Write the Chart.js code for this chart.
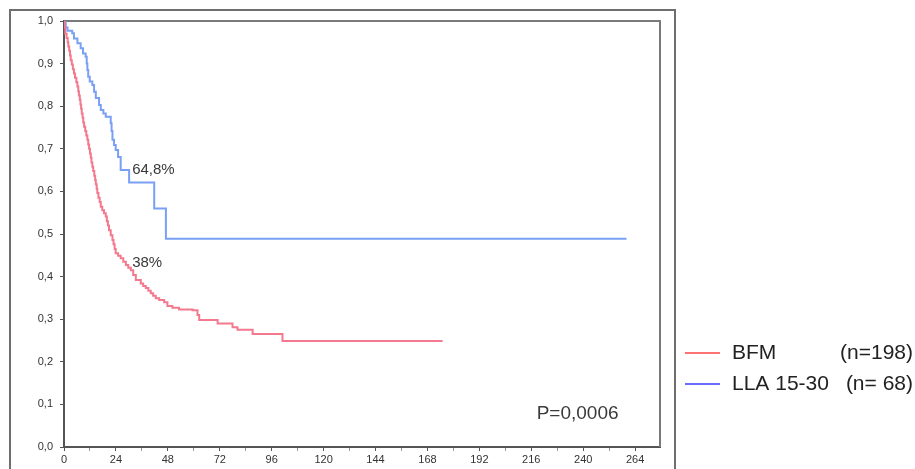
<!DOCTYPE html>
<html>
<head>
<meta charset="utf-8">
<script src="https://cdn.jsdelivr.net/npm/chart.js@4.4.1/dist/chart.umd.min.js"></script>
<style>
  html, body { margin: 0; padding: 0; background: #fff; }
  #wrap { width: 915px; height: 469px; position: relative; }
</style>
</head>
<body>
<div id="wrap"><canvas id="grafico"></canvas></div>
<script>
// Datos (meses, supervivencia)
const mesesBFM = [0, 0.3, 0.6, 1.2, 1.7, 2.0, 2.4, 2.8, 3.1, 3.6, 4.1, 4.6, 5.1, 5.7, 6.2, 6.6, 6.9, 7.3, 7.6, 7.9, 8.2, 8.6, 8.9, 9.3, 9.8, 10.3, 10.8, 11.2, 11.6, 12.0, 12.4, 12.7, 13.1, 13.5, 14.0, 14.4, 14.7, 15.1, 15.4, 15.9, 16.5, 17.0, 17.7, 18.5, 19.3, 19.8, 20.3, 20.8, 21.6, 22.4, 22.9, 23.4, 23.9, 25.0, 26.2, 27.4, 28.6, 29.7, 30.9, 32.0, 33.2, 35.5, 36.6, 37.8, 39.0, 40.1, 41.2, 42.4, 44.0, 46.3, 47.8, 50.1, 53.2, 59.4, 61.7, 62.5, 71, 77.9, 80.2, 87.2, 101, 175];
const survBFM = [1.0, 0.985, 0.970, 0.960, 0.950, 0.940, 0.930, 0.919, 0.908, 0.898, 0.887, 0.877, 0.867, 0.856, 0.846, 0.835, 0.825, 0.815, 0.804, 0.794, 0.783, 0.773, 0.762, 0.752, 0.742, 0.731, 0.721, 0.710, 0.700, 0.689, 0.679, 0.668, 0.658, 0.648, 0.637, 0.627, 0.617, 0.606, 0.596, 0.585, 0.575, 0.564, 0.556, 0.549, 0.541, 0.530, 0.520, 0.509, 0.497, 0.486, 0.476, 0.465, 0.455, 0.449, 0.443, 0.435, 0.427, 0.421, 0.415, 0.404, 0.392, 0.384, 0.378, 0.373, 0.367, 0.361, 0.355, 0.349, 0.345, 0.340, 0.331, 0.327, 0.323, 0.321, 0.310, 0.298, 0.290, 0.281, 0.275, 0.265, 0.249, 0.249];

const mesesLLA = [0, 0.8, 1.6, 3.8, 4.6, 6.2, 7.7, 8.8, 10.0, 10.5, 10.8, 11.2, 11.9, 13.1, 13.9, 14.7, 16.2, 17.0, 18.2, 19.3, 21.6, 22.0, 22.4, 23.1, 23.9, 25.0, 26.2, 30.1, 41.7, 47.1, 260];
const survLLA = [1.0, 0.985, 0.977, 0.971, 0.959, 0.948, 0.936, 0.924, 0.916, 0.900, 0.885, 0.869, 0.858, 0.850, 0.834, 0.819, 0.803, 0.791, 0.783, 0.775, 0.760, 0.742, 0.721, 0.709, 0.697, 0.681, 0.650, 0.621, 0.560, 0.489, 0.489];

const etiquetas = ['BFM', 'LLA 15-30'];
const tamanos = ['(n=198)', '(n= 68)'];
const coloresCurva = ['#f37a8e', '#79a0f4'];
const coloresLeyenda = ['#ff7272', '#6b6bff'];

const marcas = [
  { texto: '64,8%', x: 31.5, y: 0.650, size: 15 },
  { texto: '38%', x: 31.5, y: 0.432, size: 15 },
  { texto: 'P=0,0006', x: 218.5, y: 0.077, size: 19 }
];

const fuente = '"Liberation Sans", Arial, sans-serif';

// Marcos, textos y leyenda propios
const decoracion = {
  id: 'decoracion',
  beforeDatasetsDraw(chart) {
    const { ctx, chartArea: a } = chart;
    ctx.save();
    // marco exterior
    ctx.strokeStyle = '#6e6e6e';
    ctx.lineWidth = 2;
    ctx.strokeRect(10, 10, 665, 480);
    // marco del área
    ctx.strokeStyle = '#7a7a7a';
    ctx.lineWidth = 2;
    ctx.beginPath();
    ctx.moveTo(a.left, a.top);
    ctx.lineTo(a.right, a.top);
    ctx.lineTo(a.right, a.bottom);
    ctx.stroke();
    ctx.restore();
  },
  afterDraw(chart) {
    const { ctx, scales } = chart;
    ctx.save();
    ctx.fillStyle = '#3a3a3a';
    ctx.textBaseline = 'middle';
    ctx.textAlign = 'left';
    marcas.forEach(m => {
      ctx.font = m.size + 'px ' + fuente;
      ctx.fillText(m.texto, scales.x.getPixelForValue(m.x), scales.y.getPixelForValue(m.y));
    });

    // leyenda
    ctx.font = '21px ' + fuente;
    ctx.fillStyle = '#222';
    chart.data.datasets.forEach((ds, i) => {
      const y = 353 + i * 31;
      ctx.strokeStyle = coloresLeyenda[i];
      ctx.lineWidth = 2;
      ctx.beginPath();
      ctx.moveTo(685, y);
      ctx.lineTo(720, y);
      ctx.stroke();
      ctx.textAlign = 'left';
      ctx.fillText(ds.label, 732, y);
      ctx.textAlign = 'right';
      ctx.fillText(tamanos[i], 913, y);
    });
    ctx.restore();
  }
};

new Chart(document.getElementById('grafico'), {
  type: 'line',
  data: {
    datasets: [
      {
        label: etiquetas[0],
        data: mesesBFM.map((t, i) => ({ x: t, y: survBFM[i] })),
        borderColor: coloresCurva[0],
        borderWidth: 2,
        pointRadius: 0,
        stepped: true,
        fill: false
      },
      {
        label: etiquetas[1],
        data: mesesLLA.map((t, i) => ({ x: t, y: survLLA[i] })),
        borderColor: coloresCurva[1],
        borderWidth: 2,
        pointRadius: 0,
        stepped: true,
        fill: false
      }
    ]
  },
  options: {
    responsive: true,
    maintainAspectRatio: false,
    animation: false,
    layout: { padding: { left: 0, top: 21, right: 255, bottom: 0 } },
    plugins: {
      legend: { display: false },
      tooltip: { enabled: false }
    },
    scales: {
      x: {
        type: 'linear',
        min: 0,
        max: 275.5,
        afterFit: s => { s.height = 22; },
        afterBuildTicks: s => {
          const t = [];
          for (let v = 0; v <= 264; v += 12) t.push({ value: v });
          s.ticks = t;
        },
        border: { color: '#555', width: 2 },
        grid: {
          drawOnChartArea: false,
          tickLength: 4,
          tickColor: c => (c.tick && c.tick.value % 24 === 0) ? '#555' : '#999',
          tickWidth: 1
        },
        ticks: {
          color: '#333',
          font: { family: fuente, size: 11 },
          padding: 2,
          maxRotation: 0,
          autoSkip: false,
          callback: v => (v % 24 === 0 ? String(v) : '')
        }
      },
      y: {
        min: 0,
        max: 1,
        afterFit: s => { s.width = 64; },
        border: { color: '#555', width: 2 },
        grid: { drawOnChartArea: false, tickLength: 4, tickColor: '#555' },
        ticks: {
          stepSize: 0.1,
          color: '#333',
          font: { family: fuente, size: 11 },
          padding: 7,
          callback: v => v.toFixed(1).replace('.', ',')
        }
      }
    }
  },
  plugins: [decoracion]
});
</script>
</body>
</html>
